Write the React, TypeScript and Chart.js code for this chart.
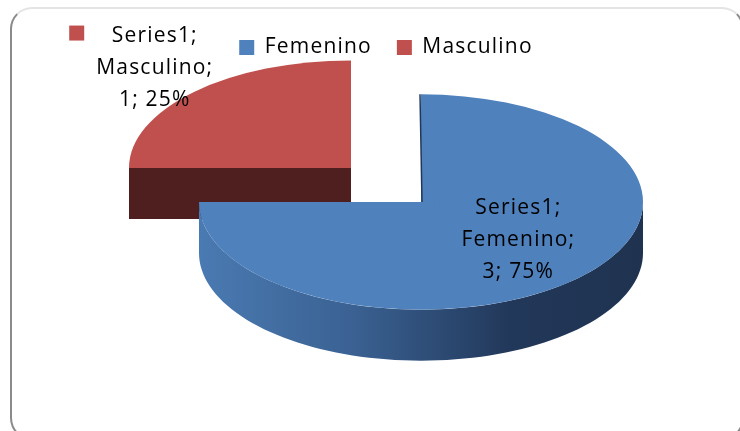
import { useEffect, useRef } from 'react';
import { Chart, registerables } from 'chart.js';

Chart.register(...registerables);

// ---- data ----
const seriesName = 'Series1';
const categories = ['Femenino', 'Masculino'];
const values = [3, 1];
const topColors = ['#4F81BD', '#C0504D'];
const explode = [0, 396];

// ---- style ----
const FONT = '"Open Sans", "Noto Sans", sans-serif';
const FONT_SIZE = 21;
const LS = '1.2px';
const TILT = 0.485;
const DEPTH = 51;
const PIE_CX = 421;
const PIE_CY = 202;
const RADIUS = 222;
const LINE_H = 32;

const sideFill = (ctx: CanvasRenderingContext2D, idx: number, x0: number, x1: number) => {
  if (idx === 0) {
    const g = ctx.createLinearGradient(x0, 0, x1, 0);
    g.addColorStop(0, '#4a7ab2');
    g.addColorStop(0.35, '#3a6192');
    g.addColorStop(0.7, '#22385a');
    g.addColorStop(1, '#1f3350');
    return g;
  }
  return '#4f1f1f';
};

const sliceCenter = (a: any, ox: number, oy: number) => {
  const off = (Number(a.options.offset) || 0) / 4;
  const mid = (a.startAngle + a.endAngle) / 2;
  return {
    off,
    mid,
    cx: PIE_CX + (a.x + Math.cos(mid) * off - ox),
    cy: PIE_CY + (a.y + Math.sin(mid) * off - oy) * TILT,
  };
};

const pie3d = {
  id: 'pie3d',
  beforeUpdate(chart: any) {
    chart.ctx.letterSpacing = LS;
  },
  beforeDraw(chart: any) {
    chart.ctx.letterSpacing = LS;
  },
  beforeDatasetsDraw(chart: any) {
    const ctx: CanvasRenderingContext2D = chart.ctx;
    const arcs: any[] = chart.getDatasetMeta(0).data;
    const ox = arcs[0].x;
    const oy = arcs[0].y;
    const info = arcs.map((a: any, i: number) => ({ a, i, ...sliceCenter(a, ox, oy) }));
    const order = [...info].sort((p, q) => p.cy - q.cy);
    for (const { a, i, cx, cy } of order) {
      const rx = a.outerRadius;
      const ry = a.outerRadius * TILT;
      const s = a.startAngle;
      const e = a.endAngle;
      const faces: [number, number][] = [
        [s, s - Math.PI / 2],
        [e, e + Math.PI / 2],
      ];
      for (const [th, nrm] of faces) {
        if (Math.sin(nrm) > 0.01) {
          ctx.beginPath();
          ctx.moveTo(cx, cy);
          ctx.lineTo(cx + rx * Math.cos(th), cy + ry * Math.sin(th));
          ctx.lineTo(cx + rx * Math.cos(th), cy + ry * Math.sin(th) + DEPTH);
          ctx.lineTo(cx, cy + DEPTH);
          ctx.closePath();
          ctx.fillStyle = i === 0 ? '#2a4668' : '#4f1f1f';
          ctx.fill();
        }
      }
      const intervals: [number, number][] = [];
      for (const base of [-2 * Math.PI, 0, 2 * Math.PI]) {
        const lo = Math.max(s, base);
        const hi = Math.min(e, base + Math.PI);
        if (hi > lo) intervals.push([lo, hi]);
      }
      for (const [lo, hi] of intervals) {
        const n = 80;
        ctx.beginPath();
        for (let k = 0; k <= n; k++) {
          const t = lo + ((hi - lo) * k) / n;
          const x = cx + rx * Math.cos(t);
          const y = cy + ry * Math.sin(t);
          if (k === 0) ctx.moveTo(x, y);
          else ctx.lineTo(x, y);
        }
        for (let k = n; k >= 0; k--) {
          const t = lo + ((hi - lo) * k) / n;
          ctx.lineTo(cx + rx * Math.cos(t), cy + ry * Math.sin(t) + DEPTH);
        }
        ctx.closePath();
        ctx.fillStyle = sideFill(ctx, i, cx - rx, cx + rx) as any;
        ctx.fill();
      }
    }
    ctx.save();
    ctx.translate(PIE_CX, PIE_CY);
    ctx.scale(1, TILT);
    ctx.translate(-ox, -oy);
  },
  afterDatasetsDraw(chart: any) {
    const ctx: CanvasRenderingContext2D = chart.ctx;
    ctx.restore();
    const arcs: any[] = chart.getDatasetMeta(0).data;
    const ox = arcs[0].x;
    const oy = arcs[0].y;
    const total = values.reduce((p, q) => p + q, 0);
    arcs.forEach((a: any, i: number) => {
      const { off, mid, cx, cy } = sliceCenter(a, ox, oy);
      const r = a.outerRadius;
      if (Math.abs(Math.cos(a.startAngle)) < 0.01) {
        ctx.save();
        ctx.strokeStyle = i === 0 ? '#22385a' : '#4f1f1f';
        ctx.lineWidth = 1.5;
        ctx.beginPath();
        ctx.moveTo(cx - 1, cy + r * TILT * Math.sin(a.startAngle));
        ctx.lineTo(cx + 1, cy);
        ctx.stroke();
        ctx.restore();
      }
      const outside = off !== 0;
      const kx = outside ? 1.25 : 0.62;
      const ky = outside ? 1.32 : 0.5;
      const lx = cx + Math.cos(mid) * r * kx;
      const ly = cy + Math.sin(mid) * r * TILT * ky;
      const pct = Math.round((values[i] / total) * 100);
      const lines = [`${seriesName};`, `${categories[i]};`, `${values[i]}; ${pct}%`];
      ctx.save();
      ctx.letterSpacing = LS;
      ctx.font = `${FONT_SIZE}px ${FONT}`;
      ctx.fillStyle = '#000000';
      ctx.textAlign = 'center';
      ctx.textBaseline = 'middle';
      const y0 = ly - LINE_H;
      lines.forEach((t, j) => ctx.fillText(t, lx, y0 + j * LINE_H));
      const maxW = Math.max(...lines.map((t) => ctx.measureText(t).width));
      ctx.fillStyle = topColors[i];
      ctx.fillRect(lx - maxW / 2 - 27, y0 - 10, 15, 15);
      ctx.restore();
    });
  },
};

export default function App() {
  const ref = useRef<HTMLCanvasElement | null>(null);
  useEffect(() => {
    const canvas = ref.current!;
    const chart = new Chart(canvas, {
      type: 'pie',
      data: {
        labels: categories,
        datasets: [
          {
            label: seriesName,
            data: values,
            backgroundColor: topColors,
            borderWidth: 0,
            offset: explode,
            clip: false as any,
          } as any,
        ],
      },
      options: {
        animation: false,
        responsive: false,
        radius: RADIUS,
        cutout: '0%',
        layout: { padding: { left: 32, right: 0, top: 12, bottom: 0 } },
        plugins: {
          legend: {
            display: true,
            position: 'top',
            labels: {
              boxWidth: 15,
              boxHeight: 15,
              padding: 25,
              color: '#000000',
              font: { family: FONT, size: FONT_SIZE },
            },
          },
          tooltip: { enabled: false },
        },
      } as any,
      plugins: [pie3d],
    });
    return () => chart.destroy();
  }, []);
  return (
    <div
      style={{
        position: 'fixed',
        left: 0,
        top: 0,
        width: 740,
        height: 431,
        overflow: 'hidden',
        background: '#ffffff',
      }}
    >
      <div
        style={{
          position: 'absolute',
          left: 10,
          top: 7,
          width: 734,
          height: 433,
          boxSizing: 'border-box',
          borderStyle: 'solid',
          borderWidth: 2,
          borderColor: '#e4e4e4 #8a8a8a #8a8a8a #8a8a8a',
          borderRadius: 22,
        }}
      />
      <canvas
        ref={ref}
        width={740}
        height={431}
        style={{ position: 'absolute', left: 0, top: 0, width: 740, height: 431 }}
      />
    </div>
  );
}
